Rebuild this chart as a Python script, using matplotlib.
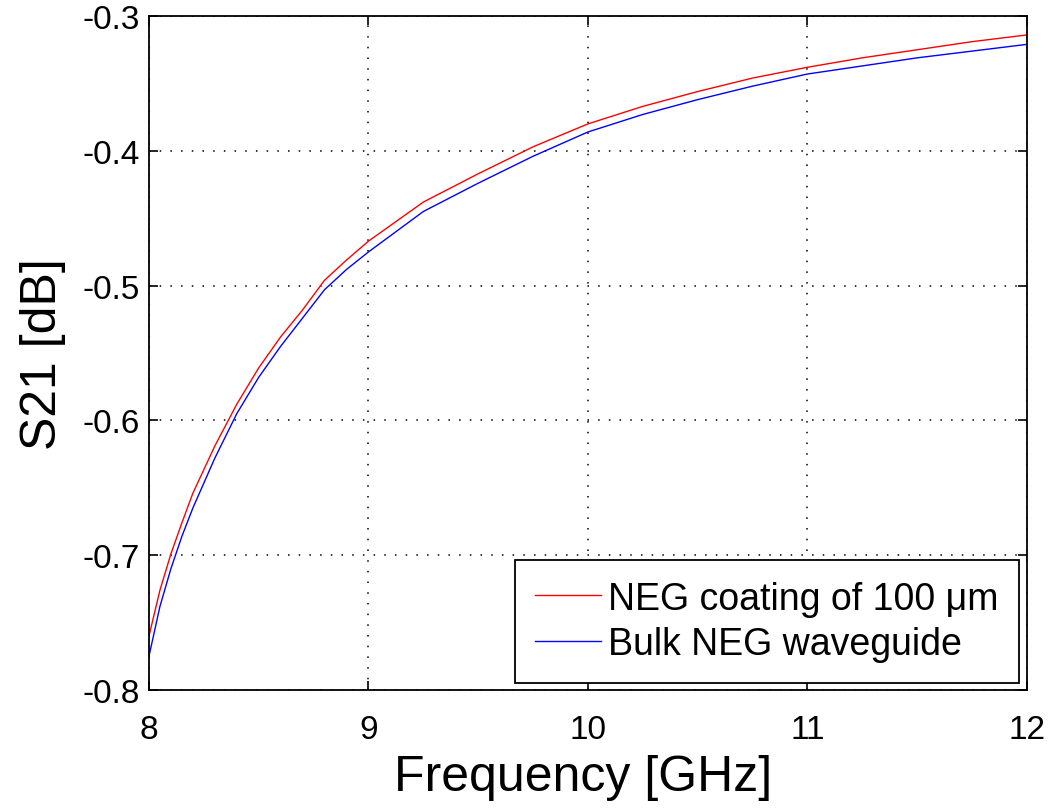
import matplotlib
matplotlib.use("Agg")
import matplotlib.pyplot as plt

# values
freq_red = [8.0, 8.05, 8.1, 8.15, 8.2, 8.3, 8.4, 8.5, 8.6, 8.7, 8.8, 8.9, 9.0,
            9.25, 9.5, 9.75, 10.0, 10.25, 10.5, 10.75, 11.0, 11.25, 11.5, 11.75, 12.0]
s21_red = [-0.760, -0.726, -0.699, -0.676, -0.654, -0.619, -0.588, -0.561, -0.538,
           -0.518, -0.496, -0.481, -0.467, -0.438, -0.417, -0.397, -0.380, -0.367,
           -0.356, -0.346, -0.338, -0.331, -0.325, -0.319, -0.314]

freq_blue = [8.0, 8.05, 8.1, 8.15, 8.2, 8.3, 8.4, 8.5, 8.6, 8.7, 8.8, 8.9, 9.0,
             9.25, 9.5, 9.75, 10.0, 10.25, 10.5, 10.75, 11.0, 11.25, 11.5, 11.75, 12.0]
s21_blue = [-0.775, -0.738, -0.710, -0.686, -0.665, -0.628, -0.595, -0.568, -0.545,
            -0.524, -0.503, -0.488, -0.475, -0.445, -0.424, -0.404, -0.386, -0.373,
            -0.362, -0.352, -0.343, -0.337, -0.331, -0.326, -0.321]

xticks = [8, 9, 10, 11, 12]
yticks = [-0.8, -0.7, -0.6, -0.5, -0.4, -0.3]

plt.rcParams['font.family'] = ['Liberation Sans', 'DejaVu Sans']

fig = plt.figure(figsize=(10.49, 8.12), dpi=100)
ax = fig.add_axes([0.142, 0.149, 0.837, 0.830])

ax.plot(freq_red, s21_red, color='red', lw=1.0, label='NEG coating of 100 μm')
ax.plot(freq_blue, s21_blue, color='blue', lw=1.0, label='Bulk NEG waveguide')

ax.set_xlim(8, 12)
ax.set_ylim(-0.8, -0.3)
ax.set_xticks(xticks)
ax.set_yticks(yticks)
ax.set_yticklabels([f"{v:g}" for v in yticks])
ax.tick_params(direction='in', top=True, right=True, labelsize=24, length=6.5, width=1.2)
ax.tick_params(axis='x', pad=17)
ax.tick_params(axis='y', pad=6.5)
ax.grid(True, color='black', linestyle=(0, (1, 6)), linewidth=1.1)
for sp in ax.spines.values():
    sp.set_linewidth(1.3)

ax.set_xlabel('Frequency [GHz]', fontsize=36)
ax.set_ylabel('S21 [dB]', fontsize=36)
ax.xaxis.set_label_coords(0.495, -0.095)
ax.yaxis.set_label_coords(-0.094, 0.5)

leg = ax.legend(loc='lower right', fontsize=27, handlelength=1.75, handletextpad=0.2,
                borderpad=0.55, borderaxespad=0.2, fancybox=False, framealpha=1,
                labelspacing=0.25)
leg.get_frame().set_edgecolor('black')
leg.get_frame().set_linewidth(1.3)

fig.savefig('out.png', dpi=100)
